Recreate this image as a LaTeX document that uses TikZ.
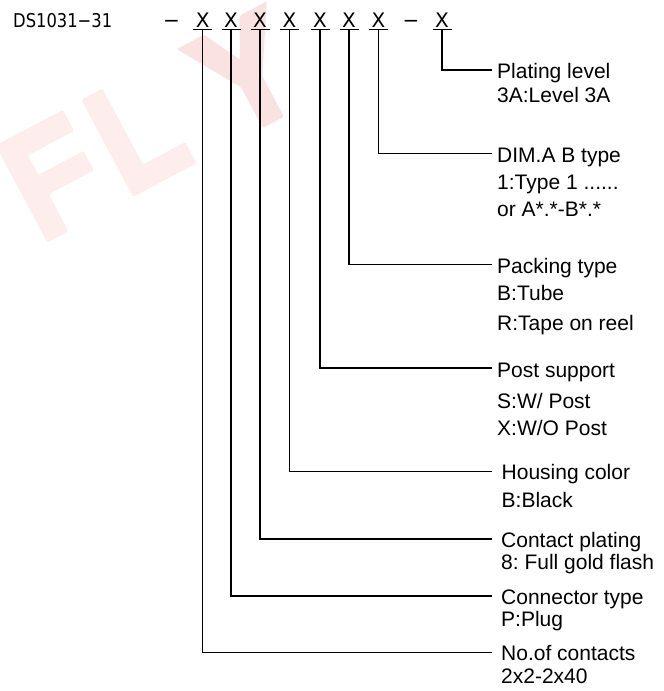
\documentclass[tikz,border=0pt]{standalone}
\usepackage{fontspec}
\setmainfont{Liberation Sans}
\newfontfamily\cadfont{DejaVu Sans}
\definecolor{wm}{RGB}{253,237,237}
\definecolor{wmy}{RGB}{251,226,226}
\frenchspacing
\begin{document}
\begin{tikzpicture}[x=1pt,y=1pt,
  lab/.style={anchor=base west,inner sep=0pt,font=\fontsize{21}{21}\selectfont},
  cx/.style={anchor=base,inner sep=0pt,font=\cadfont\fontsize{20}{20}\selectfont},
  conn/.style={line width=1.4pt},
  wmark/.style={rounded corners=2pt}]
\useasboundingbox (0,0) rectangle (664,-691);
% watermark
\begin{scope}[shift={(133,-197)},rotate=28]
  \fill[wm,wmark] (0,0) -- (72,0) -- (72,24) -- (24,24) -- (24,110) -- (0,110) -- cycle;
  \fill[wm,wmark] (-97,0) -- (-73,0) -- (-73,42) -- (-22,42) -- (-22,64) -- (-73,64) -- (-73,86) -- (-21,86) -- (-21,110) -- (-97,110) -- cycle;
  \fill[wmy,wmark] (147,0) -- (171,0) -- (171,46) -- (210,110) -- (179,110) -- (159,71) -- (139,110) -- (108,110) -- (147,46) -- cycle;
\end{scope}
% title
\node[anchor=base west,inner sep=0pt,font=\cadfont\fontsize{19}{19}\selectfont] (pn) at (13,-27) {\scalebox{0.86}[1]{DS1031−31}};
\node[cx] (d1) at (171.5,-27) {−};
\node[cx] (d2) at (411,-27) {−};
\node[cx] (x1) at (202.7,-27) {X};
\node[cx] (x2) at (231,-27) {X};
\node[cx] (x3) at (260,-27) {X};
\node[cx] (x4) at (289.5,-27) {X};
\node[cx] (x5) at (320,-27) {X};
\node[cx] (x6) at (349,-27) {X};
\node[cx] (x7) at (378.5,-27) {X};
\node[cx] (x8) at (442,-27) {X};
% underline points and elbow ends
\foreach \i/\yy in {1/652.7,2/596,3/539,4/471.7,5/368,6/264.5,7/153.5,8/70}{
  \coordinate (u\i) at ([yshift=-2.5pt]x\i.base);
  \coordinate (e\i) at (491.7,-\yy);
  \draw[conn] ([xshift=-9.5pt]u\i) -- ([xshift=9.5pt]u\i);
  \draw[conn] (u\i) |- (e\i);
}
% labels
\node[lab] (l8a) at (497,-78) {Plating level};
\node[lab] (l8b) at (497,-102) {3A:Level 3A};
\node[lab] (l7a) at (497,-162.5) {DIM.A B type};
\node[lab] (l7b) at (497,-189.5) {1:Type 1 ......};
\node[lab] (l7c) at (497,-216.5) {or A*.*-B*.*};
\node[lab] (l6a) at (497,-273) {Packing type};
\node[lab] (l6b) at (497,-300.5) {B:Tube};
\node[lab] (l6c) at (497,-330) {R:Tape on reel};
\node[lab] (l5a) at (497,-377) {Post support};
\node[lab] (l5b) at (497,-408) {S:W/ Post};
\node[lab] (l5c) at (497,-435) {X:W/O Post};
\node[lab] (l4a) at (501.5,-479) {Housing color};
\node[lab] (l4b) at (501.5,-507) {B:Black};
\node[lab] (l3a) at (501,-547.3) {Contact plating};
\node[lab] (l3b) at (501,-569.3) {8: Full gold flash};
\node[lab] (l2a) at (501,-604) {Connector type};
\node[lab] (l2b) at (501,-626) {P:Plug};
\node[lab] (l1a) at (501,-660.7) {No.of contacts};
\node[lab] (l1b) at (501,-683.3) {2x2-2x40};
\end{tikzpicture}
\end{document}
